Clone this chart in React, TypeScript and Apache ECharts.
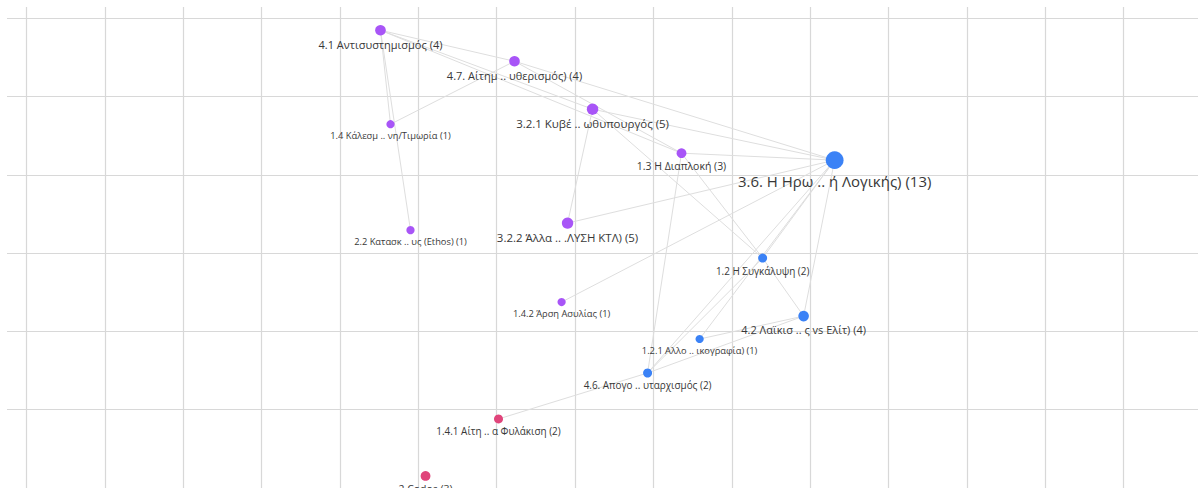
import React, { useEffect, useRef } from "react";
import * as echarts from "echarts";

// Node labels (as shown), their counts, groups and layout values (axis units)
const nodeNames = [
  "4.1 Αντισυστημισμός (4)",
  "4.7. Αίτημ .. υθερισμός) (4)",
  "1.4 Κάλεσμ .. νη/Τιμωρία (1)",
  "3.2.1 Κυβέ .. ωθυπουργός (5)",
  "1.3 Η Διαπλοκή (3)",
  "3.6. Η Ηρω .. ή Λογικής) (13)",
  "2.2 Κατασκ .. υς (Ethos) (1)",
  "3.2.2 Άλλα .. .ΛΥΣΗ ΚΤΛ) (5)",
  "1.2 Η Συγκάλυψη (2)",
  "1.4.2 Άρση Ασυλίας (1)",
  "4.2 Λαϊκισ .. ς vs Ελίτ) (4)",
  "1.2.1 Αλλο .. ικογραφία) (1)",
  "4.6. Απογο .. υταρχισμός (2)",
  "1.4.1 Αίτη .. α Φυλάκιση (2)",
  "2 Codos (3)",
];
const nodeCounts = [4, 4, 1, 5, 3, 13, 1, 5, 2, 1, 4, 1, 2, 2, 3];
const nodeGroups = [0, 0, 0, 0, 0, 1, 0, 0, 1, 0, 1, 1, 1, 2, 2];
const nodeX = [4.518, 6.228, 4.646, 7.224, 8.359, 10.313, 4.901, 6.905, 9.394, 6.829, 9.917, 8.590, 7.926, 6.024, 5.093];
const nodeY = [0.153, 0.549, 1.353, 1.161, 1.723, 1.812, 2.706, 2.616, 3.063, 3.625, 3.804, 4.097, 4.531, 5.118, 5.846];

const links: [number, number][] = [
  [0, 1], [0, 3], [0, 4], [0, 2], [0, 6],
  [1, 2], [1, 5], [1, 4],
  [3, 7], [3, 5], [3, 8],
  [4, 5], [4, 8], [4, 12],
  [5, 7], [5, 9], [5, 8], [5, 11], [5, 12], [5, 10],
  [8, 10], [11, 10], [12, 10], [12, 13], [8, 12],
];

const groupColors = ["#a855f7", "#3b82f6", "#e0457b"];

const UNIT = 78.35;

export default function App() {
  const ref = useRef<HTMLDivElement>(null);
  useEffect(() => {
    if (!ref.current) return;
    const chart = echarts.init(ref.current, undefined, { renderer: "svg" });
    const data = nodeNames.map((name, i) => {
      const c = nodeCounts[i];
      const fs = 8.2 + 0.3 * c + 0.8 * Math.sqrt(c);
      return {
        name,
        value: [nodeX[i], nodeY[i]],
        symbolSize: 7.4 + 0.8 * c,
        itemStyle: { color: groupColors[nodeGroups[i]] },
        label: {
          show: true,
          position: "bottom",
          distance: c > 10 ? 4 : 3,
          fontSize: fs,
          color: "#383838",
          fontFamily: "'Open Sans', sans-serif",
          formatter: "{b}",
        },
      };
    });
    const axisCommon = {
      type: "value",
      interval: 1,
      axisLine: { show: false },
      axisTick: { show: false },
      axisLabel: { show: false },
      splitLine: { show: true, lineStyle: { color: "#d8d8d8", width: 1.2 } },
    };
    chart.setOption({
      animation: false,
      backgroundColor: "#ffffff",
      grid: { left: 0, top: 0, right: 0, bottom: 0, containLabel: false },
      xAxis: { ...axisCommon, min: -1, max: 15 },
      yAxis: { ...axisCommon, min: -1, max: 6, inverse: true },
      series: [
        {
          type: "graph",
          coordinateSystem: "cartesian2d",
          layout: "none",
          symbol: "circle",
          data,
          links: links.map(([s, t]) => ({ source: s, target: t })),
          lineStyle: { color: "#dedede", width: 1, opacity: 1, curveness: 0 },
          emphasis: { disabled: true },
          z: 3,
        },
      ],
    });
    return () => chart.dispose();
  }, []);
  return (
    <div
      style={{ position: "absolute", left: 7, top: 7, width: 1191, height: 483, overflow: "hidden", background: "#fff" }}
    >
      <div
        ref={ref}
        style={{
          position: "absolute",
          left: 19 - UNIT,
          top: 11 - UNIT,
          width: 16 * UNIT,
          height: 7 * UNIT,
        }}
      />
    </div>
  );
}
